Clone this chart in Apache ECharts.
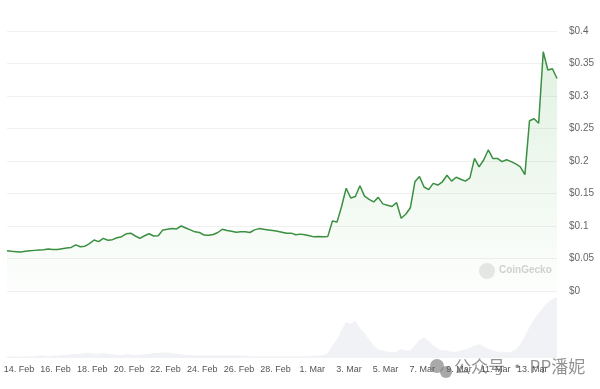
<!DOCTYPE html>
<html>
<head>
<meta charset="utf-8">
<script src="https://cdn.jsdelivr.net/npm/echarts@6/dist/echarts.min.js"></script>
<style>
html,body{margin:0;padding:0;background:#fff;}
#chart{width:600px;height:389px;}
</style>
</head>
<body>
<div id="chart"></div>
<script>
// time of first sample, in days from 14 Feb 00:00, and spacing (6 hours)
const startDay = -0.65;
const stepDays = 0.25;

// price in USD, one value every 6 hours
const prices = [
  0.062, 0.061, 0.0605, 0.060, 0.061, 0.062, 0.0625, 0.063, 0.0635, 0.0645,
  0.064, 0.064, 0.065, 0.066, 0.067, 0.071, 0.068, 0.069, 0.073, 0.0785,
  0.076, 0.081, 0.078, 0.079, 0.082, 0.0836, 0.088, 0.089, 0.0846, 0.081,
  0.085, 0.088, 0.0846, 0.085, 0.094, 0.095, 0.096, 0.0954, 0.100, 0.097,
  0.094, 0.091, 0.090, 0.086, 0.0857, 0.087, 0.090, 0.095, 0.093, 0.092,
  0.0905, 0.091, 0.091, 0.090, 0.094, 0.096, 0.095, 0.094, 0.093, 0.092,
  0.0905, 0.089, 0.089, 0.0865, 0.0875, 0.0865, 0.085, 0.0833, 0.084, 0.0833,
  0.084, 0.1076, 0.106, 0.130, 0.158, 0.143, 0.1455, 0.162, 0.146, 0.141,
  0.137, 0.144, 0.134, 0.132, 0.130, 0.136, 0.112, 0.118, 0.128, 0.168,
  0.176, 0.160, 0.156, 0.1656, 0.163, 0.168, 0.178, 0.169, 0.175, 0.172,
  0.169, 0.174, 0.204, 0.191, 0.2015, 0.217, 0.204, 0.204, 0.199, 0.202,
  0.199, 0.1955, 0.191, 0.179, 0.262, 0.265, 0.258, 0.368, 0.340, 0.342,
  0.327
];

// trading volume (relative units), same sampling
const volumes = [
  3, 3, 2, 2, 3, 3, 3, 4, 4, 3,
  4, 4, 5, 5, 6, 6, 7, 8, 8, 7,
  7, 8, 7, 6, 5, 5, 6, 6, 5, 5,
  6, 7, 8, 8, 9, 9, 8, 7, 6, 5,
  5, 4, 4, 4, 4, 4, 4, 4, 4, 4,
  4, 4, 4, 3, 3, 3, 3, 3, 3, 3,
  3, 3, 3, 3, 3, 3, 3, 4, 4, 5,
  8, 20, 30, 45, 58, 55, 60, 48, 40, 30,
  20, 14, 12, 10, 9, 10, 14, 12, 12, 20,
  30, 33, 28, 20, 15, 12, 12, 10, 10, 12,
  14, 16, 20, 22, 18, 15, 12, 10, 10, 9,
  10, 14, 22, 35, 50, 62, 72, 82, 90, 95,
  98
];

// x-axis tick labels, one every 2 days starting at 14 Feb (2024, leap year)
const tickLabels = ['14. Feb','16. Feb','18. Feb','20. Feb','22. Feb','24. Feb','26. Feb','28. Feb',
                    '1. Mar','3. Mar','5. Mar','7. Mar','9. Mar','11. Mar','13. Mar'];
const tickStepDays = 2;

// y-axis ticks
const yMin = 0, yMax = 0.4, yStep = 0.05;

const tickDays = tickLabels.map((_, i) => i * tickStepDays);
const xMin = startDay;
const xMax = startDay + (prices.length - 1) * stepDays;
const priceData = prices.map((v, i) => [startDay + i * stepDays, v]);
const volData = volumes.map((v, i) => [startDay + i * stepDays, v]);

const font = '"Liberation Sans", Arial, sans-serif';

const chart = echarts.init(document.getElementById('chart'), null, {renderer: 'canvas'});
chart.setOption({
  animation: false,
  backgroundColor: '#ffffff',
  grid: [
    {left: 7, right: 43, top: 31, height: 260},
    {left: 7, right: 43, top: 296, height: 62}
  ],
  xAxis: [
    {
      type: 'value', gridIndex: 0, min: xMin, max: xMax,
      axisLine: {show: false}, axisTick: {show: false},
      axisLabel: {show: false}, splitLine: {show: false}
    },
    {
      type: 'value', gridIndex: 1, min: xMin, max: xMax,
      axisLine: {show: false}, axisTick: {show: false}, splitLine: {show: false},
      axisLabel: {
        customValues: tickDays,
        formatter: v => tickLabels[Math.round(v / tickStepDays)] || '',
        color: '#555', fontSize: 9, fontFamily: font, margin: 7
      }
    }
  ],
  yAxis: [
    {
      type: 'value', gridIndex: 0, position: 'right', min: yMin, max: yMax, interval: yStep,
      axisLine: {show: false}, axisTick: {show: false},
      splitLine: {lineStyle: {color: '#f0f0f0', width: 1}},
      axisLabel: {
        formatter: v => '$' + (+v.toFixed(2)),
        color: '#666', fontSize: 10, fontFamily: font, margin: 12, align: 'left'
      }
    },
    {
      type: 'value', gridIndex: 1, min: 0, max: 100,
      show: false
    }
  ],
  series: [
    {
      type: 'line', xAxisIndex: 1, yAxisIndex: 1, data: volData,
      symbol: 'none', silent: true,
      lineStyle: {width: 0},
      areaStyle: {color: '#f1f2f5', opacity: 1}
    },
    {
      type: 'line', xAxisIndex: 0, yAxisIndex: 0, data: priceData,
      symbol: 'none',
      lineStyle: {color: '#3a8f40', width: 1.5},
      areaStyle: {
        origin: 'start',
        color: new echarts.graphic.LinearGradient(0, 0, 0, 1, [
          {offset: 0, color: 'rgba(76,175,80,0.24)'},
          {offset: 1, color: 'rgba(76,175,80,0.02)'}
        ])
      }
    }
  ],
  graphic: [
    {type: 'circle', shape: {cx: 487, cy: 271, r: 8}, style: {fill: '#e8e8e8'}},
    {type: 'text', left: 499, top: 265, style: {text: 'CoinGecko', fill: '#d2d2d2', font: 'bold 10px ' + font}},
    {type: 'circle', shape: {cx: 437, cy: 366, r: 7}, style: {fill: 'rgba(140,140,140,0.75)'}},
    {type: 'circle', shape: {cx: 446, cy: 372, r: 6}, style: {fill: 'rgba(140,140,140,0.75)'}},
    {type: 'text', left: 454, top: 358, style: {text: '公众号 · PP潘妮', fill: 'rgba(120,120,120,0.8)', font: '17px "Noto Sans CJK SC", sans-serif'}}
  ]
});
</script>
</body>
</html>
